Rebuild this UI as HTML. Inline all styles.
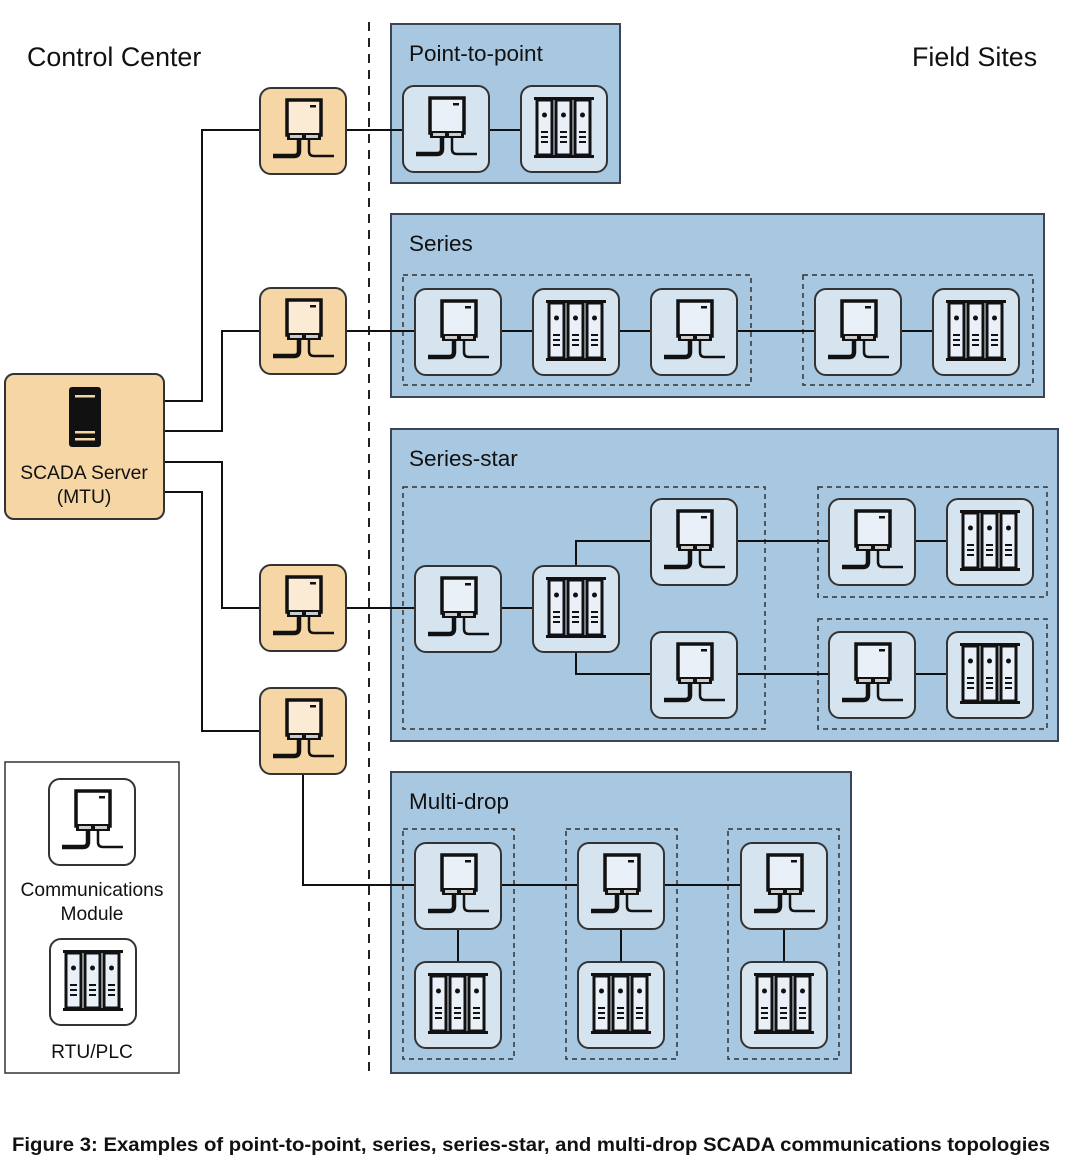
<!DOCTYPE html>
<html><head><meta charset="utf-8"><style>
html,body{margin:0;padding:0;background:#fff;}
svg{display:block;font-family:"Liberation Sans",Arial,sans-serif;}
</style></head><body>
<svg width="1080" height="1169" viewBox="0 0 1080 1169" xmlns="http://www.w3.org/2000/svg">
<defs>
<symbol id="ci" viewBox="0 0 88 88" overflow="visible">
  <rect x="28" y="13" width="34" height="35" fill="currentColor" stroke="#111" stroke-width="3.5"/>
  <rect x="51" y="18" width="6" height="2.5" fill="#111"/>
  <rect x="28" y="46" width="34" height="7" fill="#111"/>
  <rect x="31" y="48" width="12" height="3" fill="#ccc"/>
  <rect x="47" y="48" width="12" height="3" fill="#ccc"/>
  <path d="M40 53 V64 Q40 69 35 69 H14" fill="none" stroke="#111" stroke-width="4.5"/>
  <path d="M50 53 V64 Q50 69 55 69 H75" fill="none" stroke="#111" stroke-width="2.5"/>
</symbol>
<symbol id="ri" viewBox="0 0 88 88" overflow="visible">
  <rect x="14" y="12" width="60" height="3" fill="#111"/>
  <rect x="14" y="70" width="60" height="3" fill="#111"/>
  <g fill="#e9f0f7" stroke="#111" stroke-width="3">
    <rect x="17" y="15" width="15" height="55"/>
    <rect x="36" y="15" width="15" height="55"/>
    <rect x="55" y="15" width="15" height="55"/>
  </g>
  <g fill="#111">
    <circle cx="24.5" cy="30" r="2.5"/><circle cx="43.5" cy="30" r="2.5"/><circle cx="62.5" cy="30" r="2.5"/>
    <rect x="21" y="46" width="7" height="2"/><rect x="21" y="51" width="7" height="2"/><rect x="21" y="56" width="7" height="2"/>
    <rect x="40" y="46" width="7" height="2"/><rect x="40" y="51" width="7" height="2"/><rect x="40" y="56" width="7" height="2"/>
    <rect x="59" y="46" width="7" height="2"/><rect x="59" y="51" width="7" height="2"/><rect x="59" y="56" width="7" height="2"/>
  </g>
</symbol>
<symbol id="bc" viewBox="0 0 88 88" overflow="visible">
  <rect x="1" y="1" width="86" height="86" rx="11" fill="#d6e4f0" stroke="#333" stroke-width="2"/>
  <use href="#ci" width="88" height="88" color="#e9f0f7"/>
</symbol>
<symbol id="br" viewBox="0 0 88 88" overflow="visible">
  <rect x="1" y="1" width="86" height="86" rx="11" fill="#d6e4f0" stroke="#333" stroke-width="2"/>
  <use href="#ri" width="88" height="88"/>
</symbol>
<symbol id="oc" viewBox="0 0 88 88" overflow="visible">
  <rect x="1" y="1" width="86" height="86" rx="11" fill="#f6d6a4" stroke="#333" stroke-width="2"/>
  <use href="#ci" width="88" height="88" color="#fbead4"/>
</symbol>
<symbol id="wc" viewBox="0 0 88 88" overflow="visible">
  <rect x="1" y="1" width="86" height="86" rx="11" fill="#fff" stroke="#333" stroke-width="2"/>
  <use href="#ci" width="88" height="88" color="#fff"/>
</symbol>
<symbol id="wr" viewBox="0 0 88 88" overflow="visible">
  <rect x="1" y="1" width="86" height="86" rx="11" fill="#fff" stroke="#333" stroke-width="2"/>
  <use href="#ri" width="88" height="88"/>
</symbol>
</defs>

<text x="27" y="66" font-size="26.8" fill="#111">Control Center</text>
<text x="912" y="66" font-size="26.8" fill="#111">Field Sites</text>

<g fill="#a8c7e1" stroke="#3a4655" stroke-width="2">
  <rect x="391" y="24" width="229" height="159"/>
  <rect x="391" y="214" width="653" height="183"/>
  <rect x="391" y="429" width="667" height="312"/>
  <rect x="391" y="772" width="460" height="301"/>
</g>
<g font-size="22.5" fill="#111">
  <text x="409" y="61">Point-to-point</text>
  <text x="409" y="251">Series</text>
  <text x="409" y="466">Series-star</text>
  <text x="409" y="809">Multi-drop</text>
</g>
<g fill="none" stroke="#333" stroke-width="1.5" stroke-dasharray="5,4">
  <rect x="403" y="275" width="348" height="110"/>
  <rect x="803" y="275" width="230" height="110"/>
  <rect x="403" y="487" width="362" height="242"/>
  <rect x="818" y="487" width="229" height="110"/>
  <rect x="818" y="619" width="229" height="110"/>
  <rect x="403" y="829" width="111" height="230"/>
  <rect x="566" y="829" width="111" height="230"/>
  <rect x="728" y="829" width="111" height="230"/>
</g>
<line x1="369" y1="22" x2="369" y2="1075" stroke="#222" stroke-width="2" stroke-dasharray="9,7"/>

<g fill="none" stroke="#111" stroke-width="2">
  <path d="M164 401 H202 V130 H260"/>
  <path d="M164 431 H222 V331 H260"/>
  <path d="M164 462 H222 V608 H260"/>
  <path d="M164 492 H202 V731 H260"/>
  <path d="M347 130 H403"/><path d="M490 130 H521"/>
  <path d="M347 331 H415"/><path d="M502 331 H533"/><path d="M620 331 H651"/><path d="M738 331 H815"/><path d="M902 331 H933"/>
  <path d="M347 608 H415"/><path d="M502 608 H533"/>
  <path d="M576 565 V541 H651"/><path d="M576 652 V674 H651"/>
  <path d="M738 541 H829"/><path d="M916 541 H947"/>
  <path d="M738 674 H829"/><path d="M916 674 H947"/>
  <path d="M303 775 V885 H415"/><path d="M502 885 H578"/><path d="M665 885 H741"/>
  <path d="M458 929 V961"/><path d="M621 929 V961"/><path d="M784 929 V961"/>
</g>

<rect x="5" y="374" width="159" height="145" rx="9" fill="#f6d6a4" stroke="#333" stroke-width="2"/>
<rect x="69" y="387" width="32" height="60" rx="3" fill="#111"/>
<rect x="75" y="395" width="20" height="2.5" fill="#f6d6a4"/>
<rect x="75" y="431" width="20" height="2.5" fill="#f6d6a4"/>
<rect x="75" y="438" width="20" height="2.5" fill="#f6d6a4"/>
<text x="84" y="479" font-size="19.3" text-anchor="middle" fill="#111">SCADA Server</text>
<text x="84" y="503" font-size="19.3" text-anchor="middle" fill="#111">(MTU)</text>

<use href="#oc" x="259" y="87" width="88" height="88"/>
<use href="#oc" x="259" y="287" width="88" height="88"/>
<use href="#oc" x="259" y="564" width="88" height="88"/>
<use href="#oc" x="259" y="687" width="88" height="88"/>

<use href="#bc" x="402" y="85" width="88" height="88"/>
<use href="#br" x="520" y="85" width="88" height="88"/>
<use href="#bc" x="414" y="288" width="88" height="88"/>
<use href="#br" x="532" y="288" width="88" height="88"/>
<use href="#bc" x="650" y="288" width="88" height="88"/>
<use href="#bc" x="814" y="288" width="88" height="88"/>
<use href="#br" x="932" y="288" width="88" height="88"/>
<use href="#bc" x="414" y="565" width="88" height="88"/>
<use href="#br" x="532" y="565" width="88" height="88"/>
<use href="#bc" x="650" y="498" width="88" height="88"/>
<use href="#bc" x="650" y="631" width="88" height="88"/>
<use href="#bc" x="828" y="498" width="88" height="88"/>
<use href="#br" x="946" y="498" width="88" height="88"/>
<use href="#bc" x="828" y="631" width="88" height="88"/>
<use href="#br" x="946" y="631" width="88" height="88"/>
<use href="#bc" x="414" y="842" width="88" height="88"/>
<use href="#bc" x="577" y="842" width="88" height="88"/>
<use href="#bc" x="740" y="842" width="88" height="88"/>
<use href="#br" x="414" y="961" width="88" height="88"/>
<use href="#br" x="577" y="961" width="88" height="88"/>
<use href="#br" x="740" y="961" width="88" height="88"/>

<rect x="5" y="762" width="174" height="311" fill="#fff" stroke="#333" stroke-width="1.5"/>
<use href="#wc" x="48" y="778" width="88" height="88"/>
<use href="#wr" x="49" y="938" width="88" height="88"/>
<g font-size="19.2" fill="#111" text-anchor="middle">
  <text x="92" y="896">Communications</text>
  <text x="92" y="920">Module</text>
  <text x="92" y="1058">RTU/PLC</text>
</g>

<text x="12" y="1151" font-size="19" font-weight="bold" fill="#111" textLength="1038" lengthAdjust="spacingAndGlyphs">Figure 3: Examples of point-to-point, series, series-star, and multi-drop SCADA communications topologies</text>
</svg>
</body></html>
